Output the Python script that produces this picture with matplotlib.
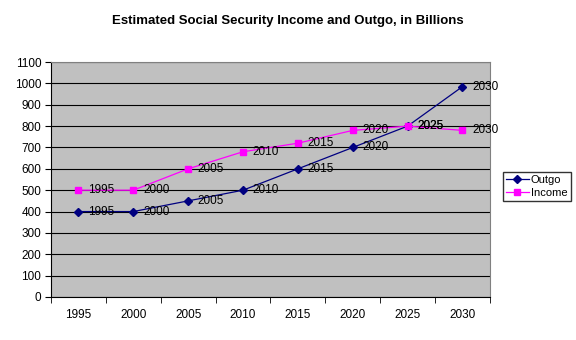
import numpy as np
import matplotlib.pyplot as plt

plt.rcParams['font.family'] = ['Liberation Sans', 'DejaVu Sans']

years = ['1995', '2000', '2005', '2010', '2015', '2020', '2025', '2030']
outgo = [400, 400, 450, 500, 600, 700, 800, 985]
income = [500, 500, 600, 680, 720, 780, 800, 780]

fig = plt.figure(figsize=(5.76, 3.40), dpi=100)
ax = fig.add_axes([0.0885, 0.1265, 0.762, 0.691])
ax.set_facecolor('#c0c0c0')

x = np.arange(len(years))
ax.plot(x, outgo, color='#000080', lw=0.9, marker='D', ms=4.5, label='Outgo')
ax.plot(x, income, color='#ff00ff', lw=0.9, marker='s', ms=5, label='Income')

# year labels next to every point
for xi, lab, v in zip(x, years, outgo):
    ax.annotate(lab, (xi, v), xytext=(7, 0), textcoords='offset points',
                va='center', fontsize=8.5)
for xi, lab, v in zip(x, years, income):
    ax.annotate(lab, (xi, v), xytext=(7, 0), textcoords='offset points',
                va='center', fontsize=8.5)

ax.set_xlim(-0.5, len(years) - 0.5)
ax.set_ylim(0, 1100)
ax.set_yticks(range(0, 1101, 100))
ax.set_xticks(x)
ax.set_xticklabels(years)
ax.set_xticks(np.arange(-0.5, len(years)), minor=True)
ax.tick_params(axis='x', which='major', length=0, pad=9, labelsize=8.5)
ax.tick_params(axis='x', which='minor', length=4, direction='out')
ax.tick_params(axis='y', length=4, direction='out', labelsize=8.5, pad=3)
ax.yaxis.grid(True, color='black', lw=0.8)
ax.set_axisbelow(True)
for s in ['top', 'right']:
    ax.spines[s].set_color('#808080')
for s in ['left', 'bottom']:
    ax.spines[s].set_color('black')

fig.suptitle('Estimated Social Security Income and Outgo, in Billions',
             x=0.5, y=0.955, fontsize=9.5, fontweight='bold')

leg = ax.legend(loc='center left', bbox_to_anchor=(1.03, 0.47), frameon=True,
                fancybox=False, edgecolor='black', fontsize=8,
                handlelength=2.0, borderpad=0.3, labelspacing=0.25,
                handletextpad=0.2, borderaxespad=0)
leg.get_frame().set_linewidth(1)

fig.savefig('out.png', dpi=100)
